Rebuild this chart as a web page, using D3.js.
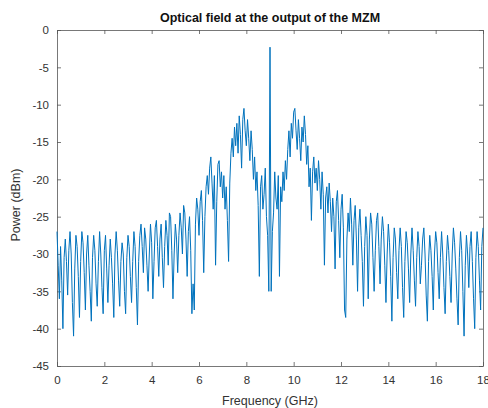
<html>
  <head>
    <title>Optical field at the output of the MZM</title>
    <meta charset="utf-8" />
    <script src="https://cdnjs.cloudflare.com/ajax/libs/d3/7.6.1/d3.min.js"></script>
    <style>
      body {
        margin: 0;
        background: white;
      }
      svg {
        width: 488px;
        height: 408px;
        font-family: "Liberation Sans", Arial, sans-serif;
      }
    </style>
  </head>
  <body>
    <svg></svg>
  </body>

  <script>
    // sampling grid of the spectrum (GHz)
    const freqStart = 0,
      freqStep = 0.05;

    // power in dBm, one row per GHz (20 samples)
    const powerDbm = [
      -27.0, -31.5, -36.0, -29.0, -33.5, -40.0, -30.5, -28.0, -31.0, -35.5, -29.5, -27.0, -30.0, -36.5, -41.0, -32.0, -27.5, -29.0, -33.0, -38.5,
      -31.0, -27.0, -28.5, -32.5, -37.5, -30.0, -27.5, -31.5, -35.0, -39.0, -30.5, -27.5, -29.5, -34.0, -37.0, -31.0, -27.0, -30.0, -34.5, -38.0,
      -29.5, -27.5, -32.0, -36.5, -31.5, -28.0, -30.5, -34.0, -38.5, -30.0, -27.0, -29.5, -33.5, -37.0, -31.0, -28.5, -30.0, -35.0, -38.0, -30.5,
      -27.5, -29.0, -33.0, -36.5, -31.0, -27.0, -29.0, -34.5, -39.5, -31.0, -27.5, -26.0, -29.0, -32.5, -26.5, -28.0, -31.5, -35.0, -30.0, -26.0,
      -28.5, -36.0, -31.0, -26.5, -25.5, -29.0, -33.0, -28.0, -26.0, -30.5, -34.5, -29.0, -25.5, -27.5, -31.5, -24.5, -25.0, -29.5, -36.0, -30.0,
      -26.0, -28.0, -32.5, -27.5, -24.5, -26.5, -30.0, -23.5, -24.5, -28.0, -33.0, -27.0, -25.0, -29.5, -38.0, -34.0, -37.5, -26.0, -22.5, -24.0,
      -27.5, -23.0, -21.5, -25.5, -32.5, -25.0, -21.0, -19.5, -22.0, -18.5, -17.0, -20.5, -24.0, -19.5, -31.5, -23.0, -18.0, -17.5, -21.0, -19.0,
      -22.5, -19.5, -24.0, -21.0, -25.5, -31.0, -20.5, -16.5, -14.5, -17.0, -13.0, -15.5, -12.5, -16.5, -11.5, -14.0, -18.5, -12.0, -10.5, -13.5,
      -15.5, -12.0, -14.5, -17.5, -13.5, -16.0, -20.0, -17.0, -21.5, -19.0, -23.5, -33.0, -21.0, -19.5, -24.0, -22.0, -18.5, -25.0, -27.5, -35.0,
      -2.3, -35.0, -27.0, -24.5, -19.0, -22.5, -24.0, -19.5, -33.0, -21.0, -23.0, -19.0, -21.5, -17.5, -20.0, -16.0, -13.5, -17.0, -12.5, -14.5,
      -11.0, -10.5, -13.5, -16.0, -12.0, -14.5, -17.5, -13.0, -15.0, -11.5, -14.0, -18.0, -15.5, -21.0, -18.5, -25.5, -19.0, -17.0, -20.5, -18.5,
      -21.5, -17.5, -20.0, -24.0, -19.0, -22.0, -31.5, -22.5, -21.0, -24.5, -20.5, -23.0, -27.0, -22.5, -25.0, -32.0, -23.0, -21.5, -25.5, -30.5,
      -24.0, -22.0, -26.5, -37.5, -38.5, -28.0, -24.5, -27.0, -22.5, -26.0, -31.5, -25.5, -23.5, -28.0, -35.0, -26.5, -24.0, -27.5, -31.0, -37.0,
      -29.0, -25.0, -27.5, -36.0, -28.0, -24.5, -26.0, -30.5, -35.0, -29.5, -25.5, -24.5, -29.0, -34.0, -28.0, -25.0, -27.0, -31.5, -36.5, -30.0,
      -26.0, -28.5, -33.0, -39.0, -30.5, -26.5, -28.0, -32.5, -36.0, -29.5, -26.5, -29.0, -34.5, -38.5, -31.0, -27.0, -28.5, -32.0, -36.5, -30.0,
      -26.5, -29.5, -33.5, -37.0, -30.5, -27.0, -29.0, -34.0, -31.5, -28.0, -26.5, -30.0, -35.5, -39.0, -31.0, -27.5, -29.5, -33.0, -37.5, -30.0,
      -27.0, -28.5, -32.5, -36.0, -30.5, -27.0, -30.0, -34.5, -38.0, -31.0, -27.5, -29.5, -33.0, -36.5, -30.0, -26.5, -28.5, -32.0, -36.0, -39.5,
      -30.5, -27.0, -29.5, -35.0, -41.0, -31.5, -27.5, -30.0, -34.5, -29.0, -27.0, -31.0, -36.0, -40.0, -30.5, -27.0, -29.0, -33.5, -37.5, -29.0,
      -26.5,
    ];

    const xTicks = [0, 2, 4, 6, 8, 10, 12, 14, 16, 18];
    const yTicks = [0, -5, -10, -15, -20, -25, -30, -35, -40, -45];

    const chartTitle = "Optical field at the output of the MZM";
    const xTitle = "Frequency (GHz)";
    const yTitle = "Power (dBm)";

    drawSpectrum();

    function drawSpectrum() {
      const lineBlue = "#0072bd",
        axisGray = "#555555",
        textGray = "#333333";

      const left = 57,
        right = 483,
        top = 30,
        bottom = 366;

      const data = powerDbm.map((p, i) => ({ f: freqStart + i * freqStep, p: p }));

      const xScale = d3.scaleLinear().domain([0, 18]).range([left, right]);
      const yScale = d3.scaleLinear().domain([-45, 0]).range([bottom, top]);

      const svg = d3.select("svg");
      const plain = (d) => String(d); // hyphen minus like matlab

      // axes, matlab style: ticks pointing in, box all round
      const xAxis = d3.axisBottom(xScale).tickValues(xTicks).tickFormat(plain).tickSizeInner(-4).tickSizeOuter(0).tickPadding(10);
      const xTop = d3.axisTop(xScale).tickValues(xTicks).tickSizeInner(-4).tickSizeOuter(0).tickFormat("");
      const yAxis = d3.axisLeft(yScale).tickValues(yTicks).tickFormat(plain).tickSizeInner(-4).tickSizeOuter(0).tickPadding(8);
      const yRight = d3.axisRight(yScale).tickValues(yTicks).tickSizeInner(-4).tickSizeOuter(0).tickFormat("");

      svg.append("g").attr("transform", `translate(0,${bottom})`).call(xAxis);
      svg.append("g").attr("transform", `translate(0,${top})`).call(xTop);
      svg.append("g").attr("transform", `translate(${left},0)`).call(yAxis);
      svg.append("g").attr("transform", `translate(${right},0)`).call(yRight);

      svg.selectAll(".domain, .tick line").attr("stroke", axisGray).attr("stroke-width", 0.8);
      svg
        .selectAll(".tick text")
        .attr("fill", textGray)
        .style("font-size", "11.5px")
        .style("font-family", '"Liberation Sans", Arial, sans-serif');

      const spectrumLine = d3
        .line()
        .x((d) => xScale(d.f))
        .y((d) => yScale(d.p));

      svg
        .append("path")
        .attr("d", spectrumLine(data))
        .attr("fill", "none")
        .attr("stroke", lineBlue)
        .attr("stroke-width", 1)
        .attr("stroke-linejoin", "round");

      svg
        .append("text")
        .attr("x", (left + right) / 2)
        .attr("y", 22)
        .attr("text-anchor", "middle")
        .style("font-size", "12.5px")
        .style("font-weight", "bold")
        .attr("fill", "#111")
        .text(chartTitle);

      svg
        .append("text")
        .attr("x", (left + right) / 2)
        .attr("y", 405)
        .attr("text-anchor", "middle")
        .style("font-size", "12.5px")
        .attr("fill", textGray)
        .text(xTitle);

      svg
        .append("text")
        .attr("transform", "translate(20,205) rotate(-90)")
        .attr("text-anchor", "middle")
        .style("font-size", "12.5px")
        .attr("fill", textGray)
        .text(yTitle);
    }
  </script>
</html>
